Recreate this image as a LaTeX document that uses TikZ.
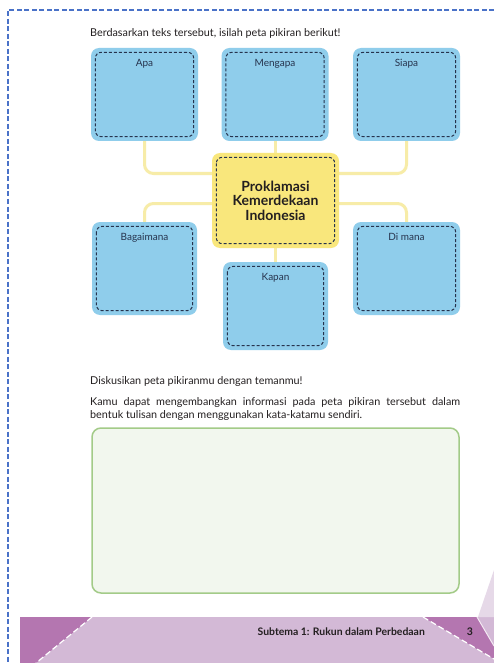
\documentclass[tikz,border=0pt]{standalone}
\usepackage{fontspec}
\setmainfont{Lato}
\usetikzlibrary{backgrounds}
\definecolor{boxblue}{HTML}{8FCDEB}
\definecolor{navy}{HTML}{26334D}
\definecolor{yelbox}{HTML}{F9E77C}
\definecolor{yelline}{HTML}{F7ECA8}
\definecolor{pageblue}{HTML}{4A72C8}
\definecolor{greenfill}{HTML}{F2F7EE}
\definecolor{greenline}{HTML}{A3CB88}
\definecolor{footlight}{HTML}{D3B9D6}
\definecolor{footdark}{HTML}{B476B0}
\definecolor{footpale}{HTML}{E6D9E8}
\definecolor{ink}{HTML}{231F20}
\newcommand\innerdash[1]{\draw[dashline] ([shift={(4.5,4.5)}]#1.north west) rectangle ([shift={(-4.5,-4.5)}]#1.south east);}
\begin{document}
\begin{tikzpicture}[x=1pt,y=-1pt,
  txt/.style={inner sep=0pt, text=ink, font=\fontsize{10.8}{13}\selectfont},
  lab/.style={inner sep=0pt, text=navy, font=\fontsize{10}{11}\selectfont},
  box/.style={fill=boxblue, rounded corners=8pt, minimum width=107pt, minimum height=93pt, inner sep=0pt},
  dashline/.style={draw=navy, line width=1pt, dash pattern=on 3pt off 2pt, rounded corners=6pt},
  conn/.style={draw=yelline, line width=3pt, rounded corners=9pt},
  greenbox/.style={fill=greenfill, draw=greenline, line width=1.5pt, rounded corners=9pt, inner sep=0pt}]
\useasboundingbox (0,0) rectangle (494,663);
\begin{scope}[on background layer]
  \fill[white] (0,0) rectangle (494,663);
\end{scope}
% page border
\draw[pageblue, line width=1.6pt, dash pattern=on 5pt off 2.5pt] (494,10) -- (8,10) -- (8,663);
% title
\node[txt, anchor=west] (title) at (90,33) {Berdasarkan teks tersebut, isilah peta pikiran berikut!};
% boxes
\node[box, label={[lab, anchor=north, yshift=-11pt]north:Apa}] (apa) at (144.5,94.5) {};
\node[box, label={[lab, anchor=north, yshift=-11pt]north:Mengapa}] (mengapa) at (275,94.5) {};
\node[box, label={[lab, anchor=north, yshift=-11pt]north:Siapa}] (siapa) at (406.5,94.5) {};
\node[box, fill=yelbox, minimum width=127pt, minimum height=95pt, align=center,
  font=\bfseries\fontsize{14}{14.5}\selectfont, text=ink] (center) at (275.5,200.5)
  {Proklamasi\\Kemerdekaan\\Indonesia};
\node[box, minimum width=105pt, label={[lab, anchor=north, yshift=-11pt]north:Bagaimana}] (bagaimana) at (144.5,268.5) {};
\node[box, minimum width=107pt, label={[lab, anchor=north, yshift=-11pt]north:Di mana}] (dimana) at (406.5,268.5) {};
\node[box, minimum width=105pt, minimum height=88pt, label={[lab, anchor=north, yshift=-11pt]north:Kapan}] (kapan) at (275.5,306) {};
\innerdash{apa}
\innerdash{mengapa}
\innerdash{siapa}
\innerdash{center}
\innerdash{bagaimana}
\innerdash{dimana}
\innerdash{kapan}
% connectors
\begin{scope}[on background layer]
  \draw[conn] (apa.south) |- ([yshift=27pt]center.west);
  \draw[conn] (siapa.south) |- ([yshift=27pt]center.east);
  \draw[conn] ([yshift=-3pt]center.west) -| (bagaimana.north);
  \draw[conn] ([yshift=-3pt]center.east) -| (dimana.north);
  \draw[conn] (mengapa.south) -- (mengapa.south |- center.north);
  \draw[conn] (kapan.north) -- (kapan.north |- center.south);
\end{scope}
% discussion text
\node[txt, anchor=west] (disk) at (90,382) {Diskusikan peta pikiranmu dengan temanmu!};
\node[txt, anchor=north west, text width=370pt, align=justify] (para) at (90,397)
  {\hyphenpenalty=10000 Kamu dapat mengembangkan informasi pada peta pikiran tersebut dalam\linebreak bentuk tulisan dengan menggunakan kata-katamu sendiri.};
\node[greenbox, minimum width=367pt, minimum height=165pt] (write) at (275.5,510.5) {};
% footer
\fill[footlight] (20,617) rectangle (494,663);
\fill[footdark] (20,617) -- (92,617) -- (36,663) -- (20,663) -- cycle;
\draw[white, line width=1.2pt, dash pattern=on 6pt off 3pt] (92,617) -- (36,663);
\fill[footpale] (478,617) -- (494,570) -- (494,617) -- cycle;
\fill[footdark] (423,617) -- (477,617) -- (494,646) -- (494,659) -- cycle;
\draw[white, line width=1.2pt, dash pattern=on 6pt off 3pt] (423,617) -- (494,659);
\draw[white!85!footdark, line width=1pt] (477,617) -- (494,646);
\node[txt, anchor=east, font=\fontsize{10.4}{11}\selectfont\bfseries] (sub) at (425,632) {Subtema 1: Rukun dalam Perbedaan};
\node[txt, font=\fontsize{10.5}{11}\selectfont\bfseries] (pg) at (470,632) {3};
\end{tikzpicture}
\end{document}
